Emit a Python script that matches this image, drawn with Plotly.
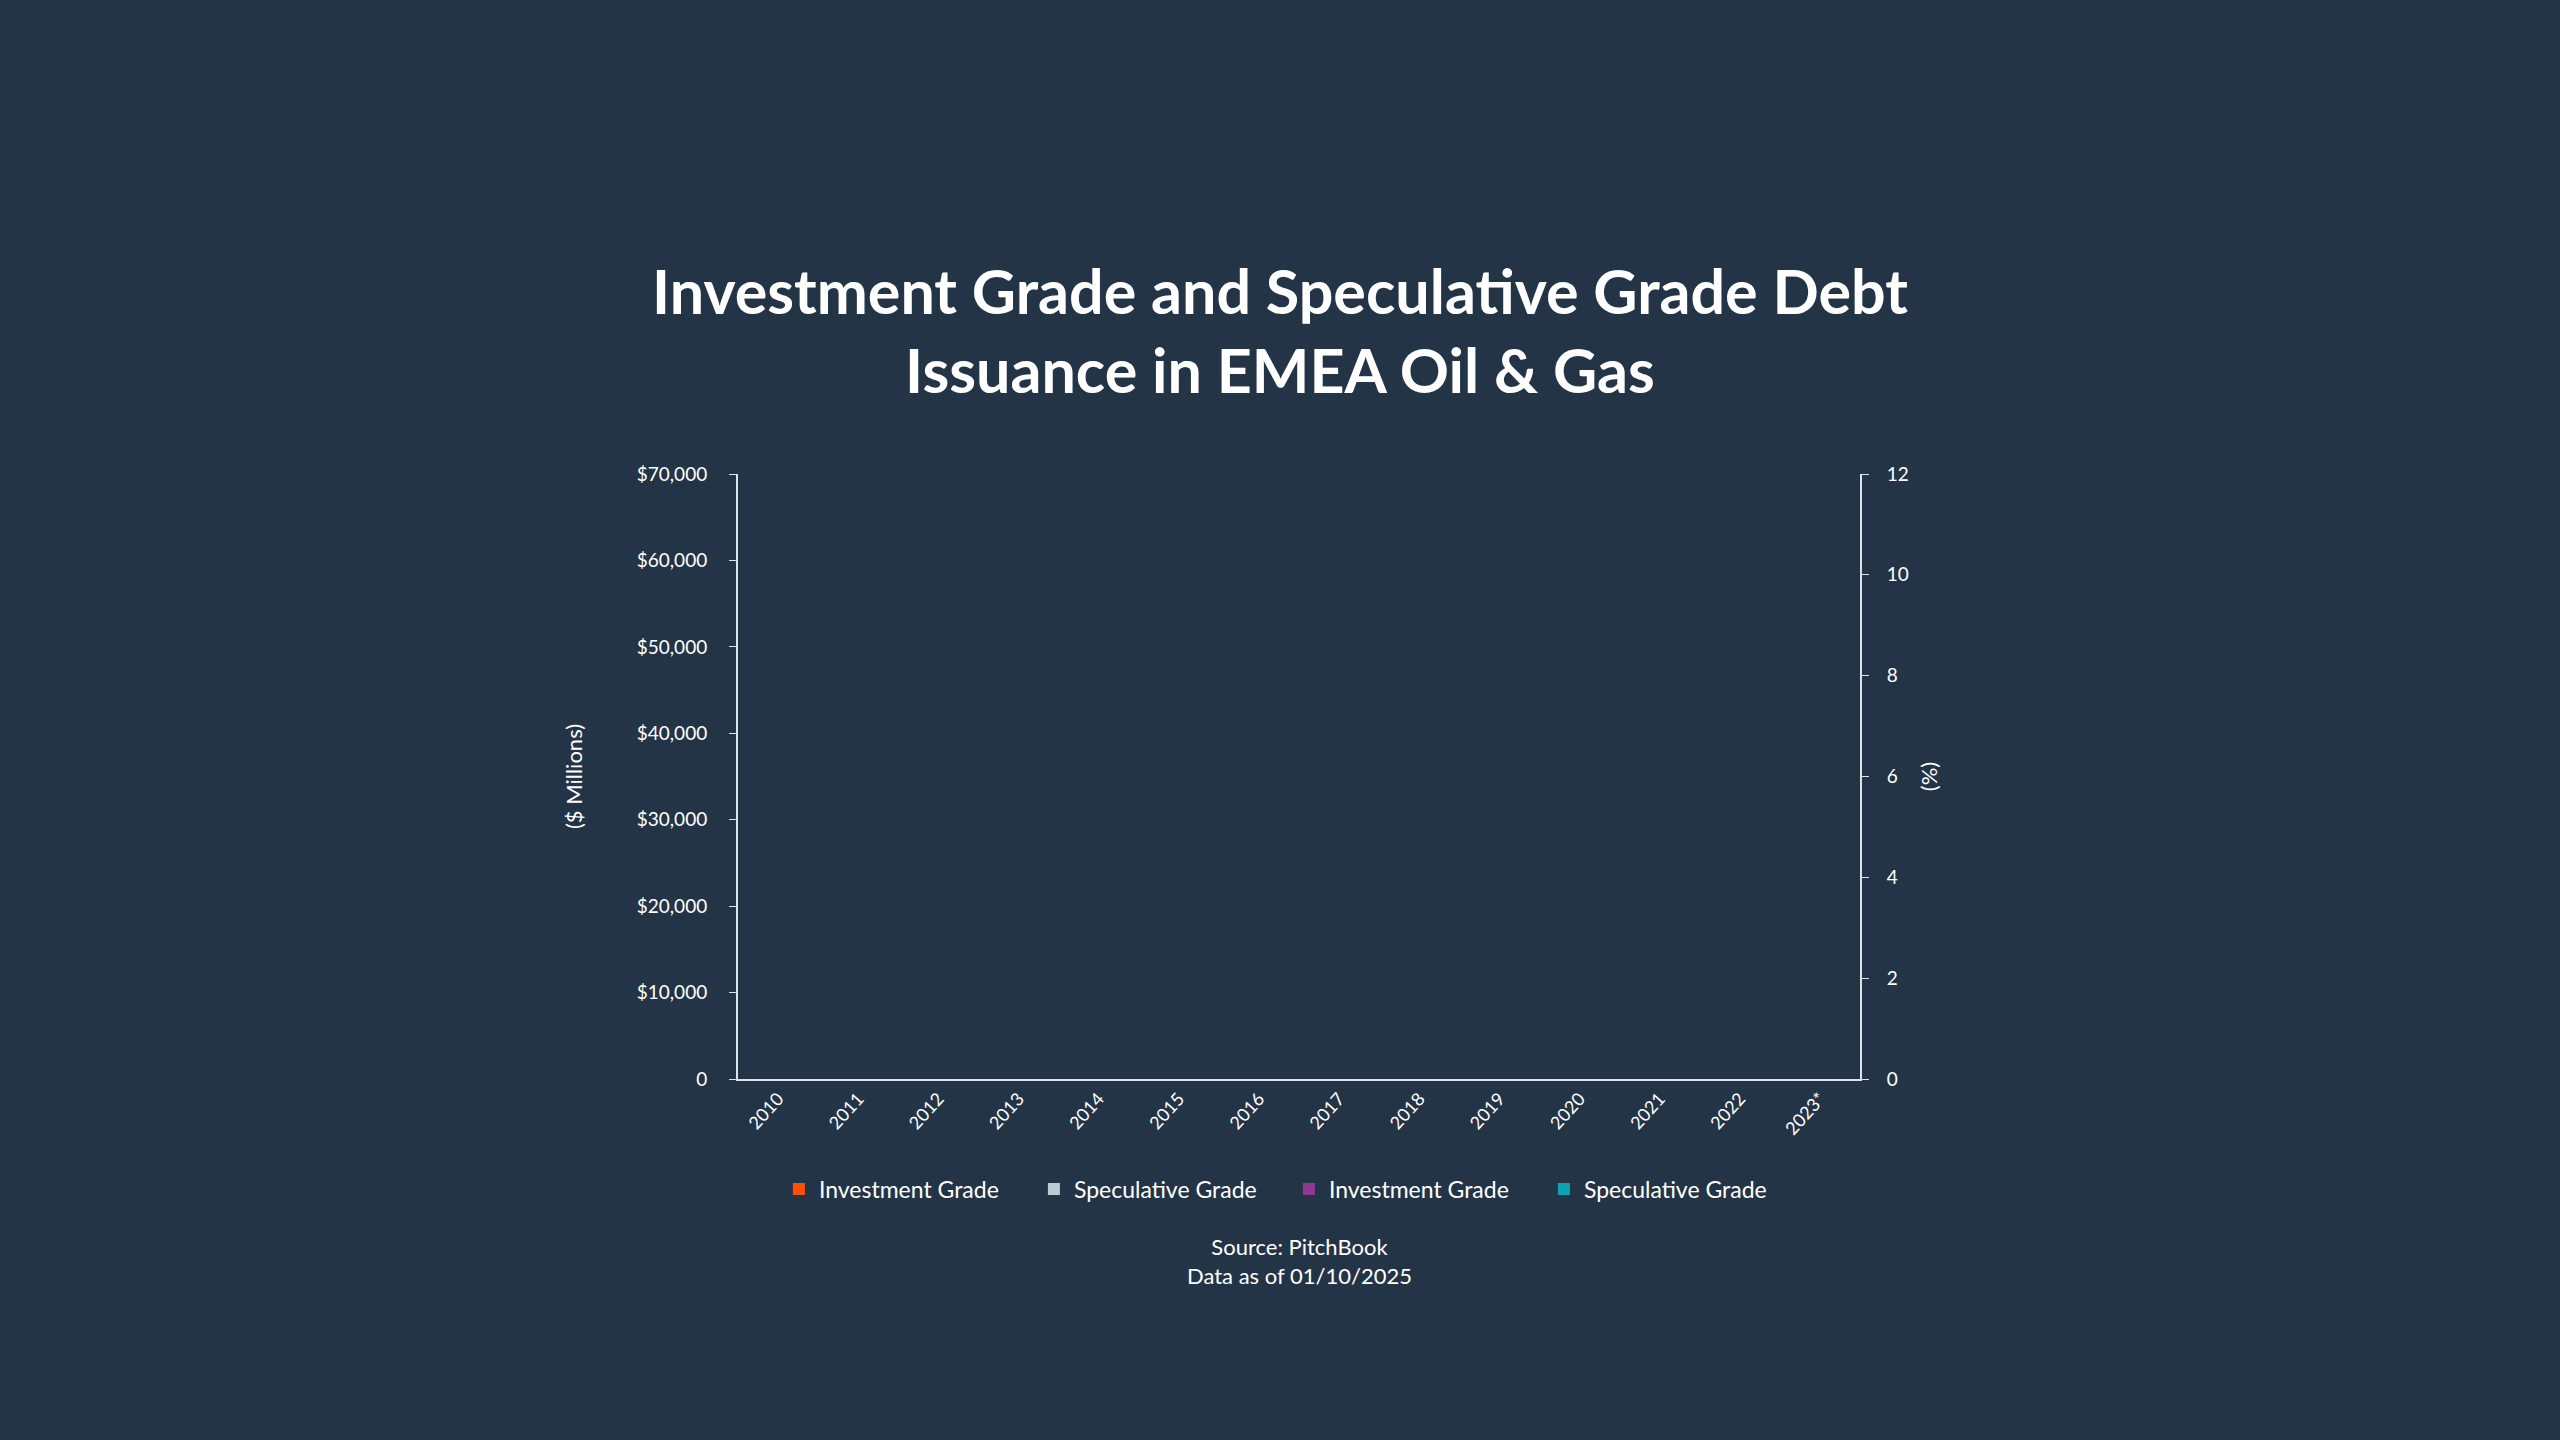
import plotly.graph_objects as go

# data (the published chart shows no visible bars/points)
years = ["2010", "2011", "2012", "2013", "2014", "2015", "2016",
         "2017", "2018", "2019", "2020", "2021", "2022", "2023*"]
ig_issuance = [0, 0, 0, 0, 0, 0, 0, 0, 0, 0, 0, 0, 0, 0]
sg_issuance = [0, 0, 0, 0, 0, 0, 0, 0, 0, 0, 0, 0, 0, 0]
ig_pct = [0, 0, 0, 0, 0, 0, 0, 0, 0, 0, 0, 0, 0, 0]
sg_pct = [0, 0, 0, 0, 0, 0, 0, 0, 0, 0, 0, 0, 0, 0]

left_ticks = [0, 10000, 20000, 30000, 40000, 50000, 60000, 70000]
left_labels = ["0", "$10,000", "$20,000", "$30,000", "$40,000",
               "$50,000", "$60,000", "$70,000"]
right_ticks = [0, 2, 4, 6, 8, 10, 12]

BG = "#243447"
AXIS = "#dce4ea"
FONT = "Lato"

fig = go.Figure()
fig.add_trace(go.Bar(x=years, y=ig_issuance, name="Investment Grade",
                     marker=dict(color="#ff4f00", line=dict(width=0)),
                     offsetgroup="a"))
fig.add_trace(go.Bar(x=years, y=sg_issuance, name="Speculative Grade",
                     marker=dict(color="#b9cdd2", line=dict(width=0)),
                     offsetgroup="b"))
fig.add_trace(go.Bar(x=years, y=ig_pct, name="Investment Grade", yaxis="y2",
                     marker=dict(color="#8e3a91", line=dict(width=0)),
                     offsetgroup="c"))
fig.add_trace(go.Bar(x=years, y=sg_pct, name="Speculative Grade", yaxis="y2",
                     marker=dict(color="#0aa3b3", line=dict(width=0)),
                     offsetgroup="d"))

fig.update_layout(
    width=2560, height=1440,
    paper_bgcolor=BG, plot_bgcolor=BG,
    font=dict(family=FONT, color="white", size=19),
    margin=dict(l=738, r=700, t=474, b=361),
    title=dict(text="<b>Investment Grade and Speculative Grade Debt<br>Issuance in EMEA Oil & Gas</b>",
               x=0.5, xanchor="center", y=0.782, yanchor="middle",
               font=dict(family=FONT, size=61, color="white")),
    barmode="group",
    showlegend=True,
    legend=dict(orientation="h", x=0.491, xanchor="center", y=-0.182, yanchor="middle",
                font=dict(size=23, color="white"), itemwidth=30,
                entrywidth=210, entrywidthmode="pixels",
                traceorder="normal", bgcolor="rgba(0,0,0,0)"),
    xaxis=dict(type="category", showgrid=False, showline=True, linecolor=AXIS,
               linewidth=2, ticks="", tickangle=-48,
               tickfont=dict(size=18, color="white")),
    yaxis=dict(range=[0, 70000], tickvals=left_ticks, ticktext=left_labels,
               showgrid=False, zeroline=False, showline=True, linecolor=AXIS,
               linewidth=2, ticks="outside", ticklen=7, tickcolor=AXIS,
               ticklabelstandoff=18,
               title=dict(text="($ Millions)", font=dict(size=22), standoff=48)),
    yaxis2=dict(range=[0, 12], tickvals=right_ticks, overlaying="y", side="right",
                showgrid=False, zeroline=False, showline=True, linecolor=AXIS,
                linewidth=2, ticks="outside", ticklen=7, tickcolor=AXIS,
                ticklabelstandoff=14,
                title=dict(text="(%)", font=dict(size=22), standoff=14)),
    annotations=[dict(text="Source: PitchBook<br>Data as of 01/10/2025",
                      xref="paper", yref="paper", x=0.5, y=-0.30,
                      xanchor="center", yanchor="middle", showarrow=False,
                      font=dict(size=22, color="white"))],
)

fig.write_html("out.html", config={"displayModeBar": False},
               post_script="document.body.style.margin='0';")
